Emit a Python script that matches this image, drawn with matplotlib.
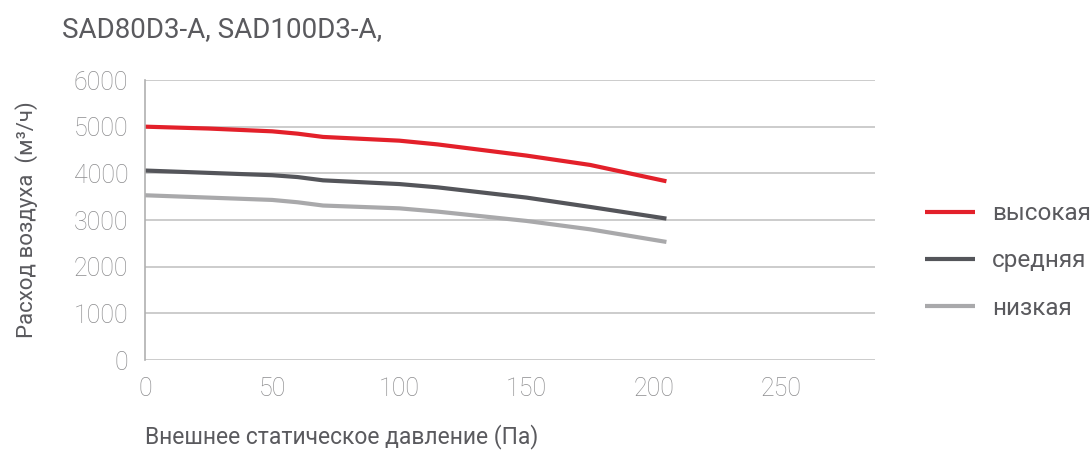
import matplotlib
matplotlib.use("Agg")
import matplotlib.pyplot as plt

# data
pressure = [0, 25, 50, 60, 70, 100, 115, 150, 175, 205]
high = [5000, 4960, 4900, 4850, 4780, 4700, 4620, 4380, 4180, 3830]
medium = [4060, 4010, 3960, 3920, 3850, 3770, 3700, 3480, 3280, 3030]
low = [3530, 3480, 3430, 3380, 3310, 3250, 3180, 2980, 2800, 2530]
series_labels = ["высокая", "средняя", "низкая"]
x_ticks = [0, 50, 100, 150, 200, 250]
y_ticks = [0, 1000, 2000, 3000, 4000, 5000, 6000]

plt.rcParams['font.family'] = ['Roboto', 'DejaVu Sans']

fig = plt.figure(figsize=(10.9, 4.5), dpi=100)
ax = fig.add_axes([145/1090, 1-360/450, (875-145)/1090, 280/450])

colors = ["#e3202a", "#54555a", "#a9a9ab"]
for ys, c, lab in zip([high, medium, low], colors, series_labels):
    ax.plot(pressure, ys, color=c, lw=3, label=lab, solid_capstyle='butt')

ax.set_xlim(0, 287)
ax.set_ylim(0, 6000)
ax.set_xticks(x_ticks)
ax.set_yticks(y_ticks)
ax.yaxis.grid(True, color="#c4c4c4", lw=1.2)
ax.set_axisbelow(True)
for s in ["top", "right", "bottom"]:
    ax.spines[s].set_visible(False)
ax.spines["left"].set_color("#b0b0b0")
ax.spines["left"].set_linewidth(1.2)
ax.tick_params(axis='both', length=0, labelsize=18, labelcolor="#8c8c8e")
ax.tick_params(axis='x', pad=12)
ax.tick_params(axis='y', pad=12)
for t in ax.get_xticklabels() + ax.get_yticklabels():
    t.set_fontweight('light')

fig.text(15/1090, 1-220/450, "Расход воздуха  (м³/ч)", rotation=90, va='center', ha='left',
         fontsize=16, color="#5a5a5e")
fig.text(145/1090, 1-437/450, "Внешнее статическое давление (Па)", va='center', ha='left',
         fontsize=16.5, color="#5a5a5e")
fig.text(62/1090, 1-30/450, "SAD80D3-A, SAD100D3-A,", va='center', ha='left',
         fontsize=20, color="#5a5a5e")

leg = fig.legend(loc='center left', bbox_to_anchor=(925/1090, 1-261/450), frameon=False,
                 fontsize=17.5, handlelength=2.05, labelspacing=1.0, handletextpad=0.72,
                 borderpad=0, borderaxespad=0)
for t in leg.get_texts():
    t.set_color("#5a5a5e")

fig.savefig("out.png", dpi=100)
